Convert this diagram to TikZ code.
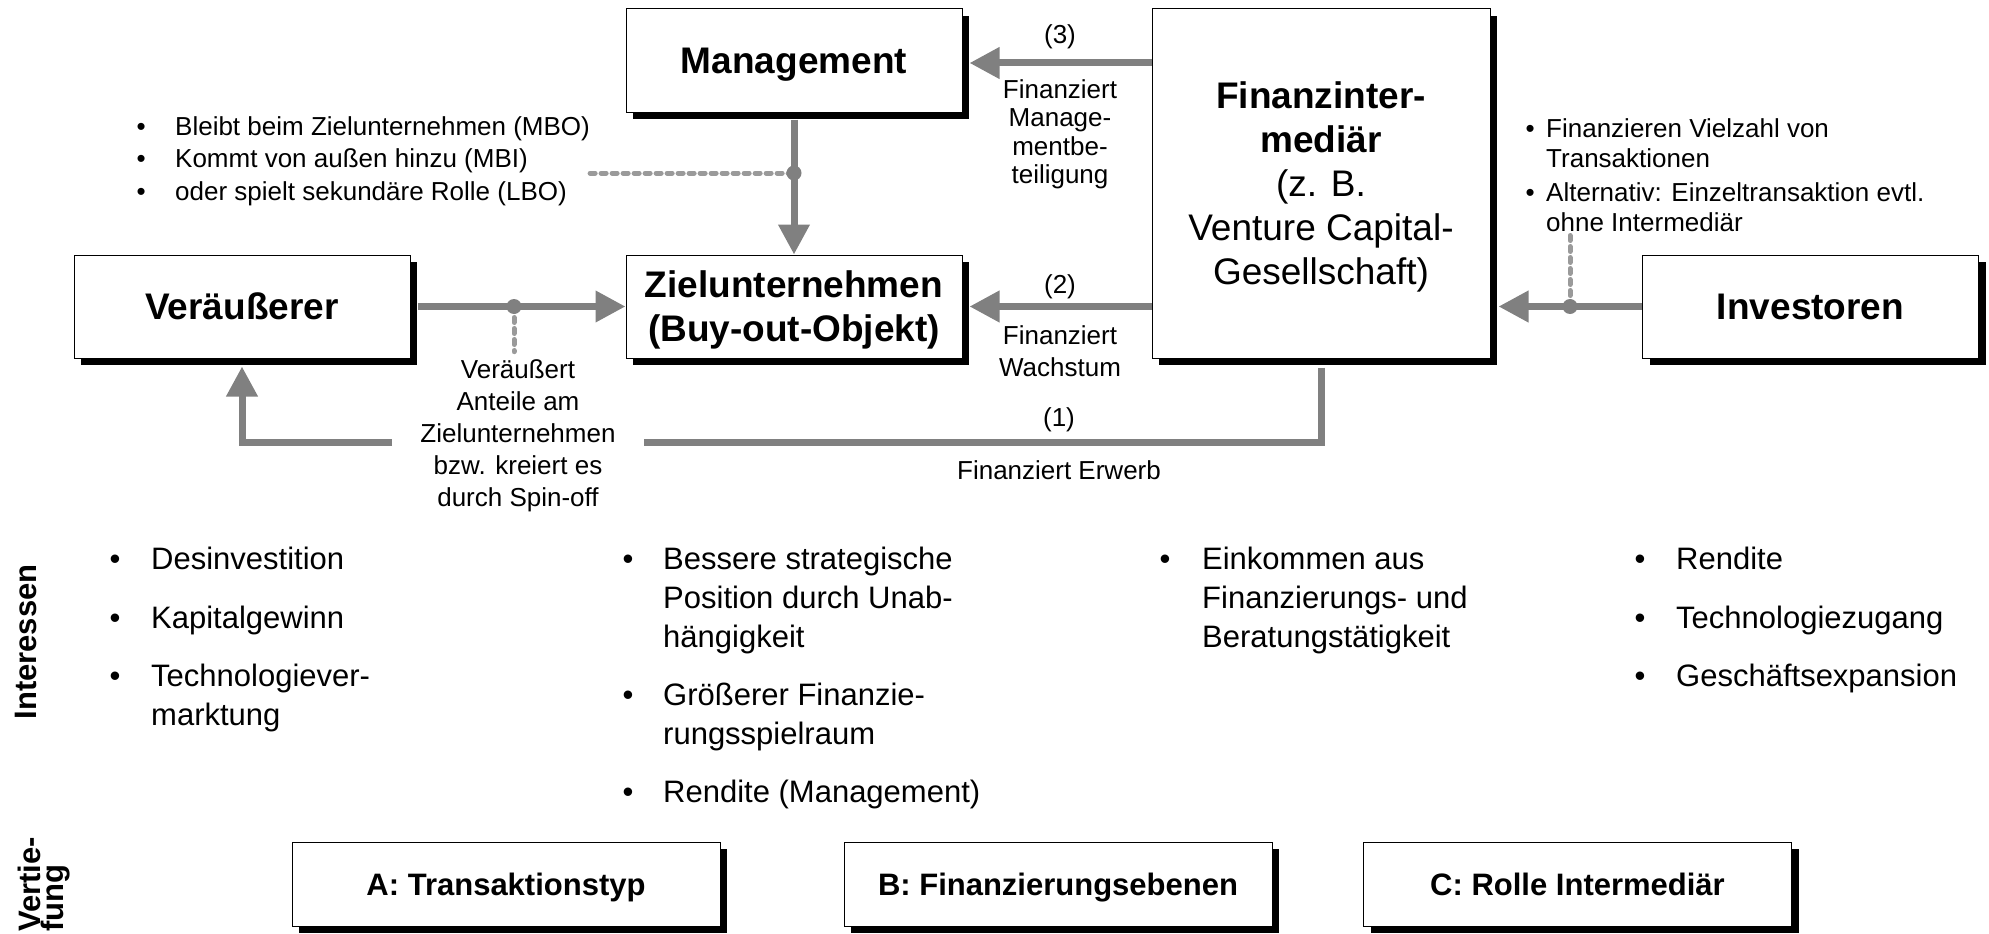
\documentclass[tikz,border=0pt]{standalone}
\usepackage{fontspec}
\setmainfont{Liberation Sans}
\usetikzlibrary{arrows.meta,shadows}

\definecolor{liniengrau}{HTML}{808080}
\definecolor{strichgrau}{HTML}{9A9A9A}
\newcommand{\pkt}[1]{\makebox[#1][l]{\textbullet}}

\begin{document}
\begin{tikzpicture}[x=1pt, y=-1pt,
  kasten/.style={draw=black, line width=1pt, fill=white, inner sep=0pt, align=center,
    minimum width=336pt, minimum height=103pt, text depth=0pt,
    general shadow={fill=black, shadow xshift=7pt, shadow yshift=-7pt}},
  titel/.style={font=\fontsize{37}{44}\selectfont\bfseries},
  vertiefung/.style={kasten, font=\fontsize{31}{37}\selectfont\bfseries,
    minimum width=428pt, minimum height=84pt},
  klein/.style={font=\fontsize{26}{31}\selectfont, align=center, inner sep=0pt},
  liste/.style={font=\fontsize{31}{39}\selectfont, align=left, anchor=north west, inner sep=0pt},
  pfeil/.style={draw=liniengrau, line width=7pt, -{Triangle[length=30pt, width=30pt]}},
  linie/.style={draw=liniengrau, line width=7pt},
  strich/.style={draw=strichgrau, line width=5pt, line cap=round, dash pattern=on 5pt off 6pt},
  punkt/.style={circle, fill=liniengrau, inner sep=0pt, minimum size=15pt}]
  \useasboundingbox (0,0) rectangle (1989,934);

  % Beteiligte
  \node[kasten, titel] (mgmt)   at (794,60.5)    {Management};
  \node[kasten, titel] (ziel)   at (794,306.5)   {Zielunternehmen\\(Buy-out-Objekt)};
  \node[kasten, titel] (veraeu) at (242,306.5)   {Veräußerer};
  \node[kasten, titel] (invest) at (1810.5,306.5) {Investoren};
  \node[kasten, titel, minimum width=338pt, minimum height=349pt] (fin) at (1321,183.5)
    {Finanzinter-\\mediär\\\mdseries (z. B.\\\mdseries Venture Capital-\\\mdseries Gesellschaft)};

  % Vertiefung
  \node[vertiefung] (teilA) at (506,884)    {A: Transaktionstyp};
  \node[vertiefung] (teilB) at (1058,884)   {B: Finanzierungsebenen};
  \node[vertiefung] (teilC) at (1577.5,884) {C: Rolle Intermediär};

  % Beschriftungen der Ströme
  \node[klein] (n3) at (1060,37) {(3)};
  \node[klein, font=\fontsize{26}{28.5}\selectfont] (f3) at (1060,134.5)
    {Finanziert\\Manage-\\mentbe-\\teiligung};
  \node[klein] (n2) at (1060,287) {(2)};
  \node[klein, font=\fontsize{26}{32}\selectfont] (f2) at (1060,351) {Finanziert\\Wachstum};
  \node[klein] (n1) at (1059,420) {(1)};
  \node[klein] (f1) at (1059,470) {Finanziert Erwerb};
  \node[klein, font=\fontsize{26}{32}\selectfont, inner xsep=28pt, inner ysep=8pt] (verk) at (518,436)
    {Veräußert\\Anteile am\\Zielunternehmen\\bzw. kreiert es\\durch Spin-off};

  \node[liste, font=\fontsize{26}{32.5}\selectfont, anchor=west] (mgmtliste) at (136.5,161)
    {\pkt{38.5pt}Bleibt beim Zielunternehmen (MBO)\\
     \pkt{38.5pt}Kommt von außen hinzu (MBI)\\
     \pkt{38.5pt}oder spielt sekundäre Rolle (LBO)};
  \node[liste, font=\fontsize{26}{30}\selectfont] (invliste) at (1525.5,118.5)
    {\pkt{20.5pt}Finanzieren Vielzahl von\\\hspace*{20.5pt}Transaktionen\\[4pt]
     \pkt{20.5pt}Alternativ: Einzeltransaktion evtl.\\\hspace*{20.5pt}ohne Intermediär};

  % Interessen
  \node[font=\fontsize{31}{37}\selectfont\bfseries, rotate=90, inner sep=0pt] (interessen) at (26,642) {Interessen};
  \node[font=\fontsize{31}{23}\selectfont\bfseries, rotate=90, align=left, anchor=north west,
    inner sep=0pt] (vertie) at (18,932) {Vertie-\\fung};
  \node[liste] (intVer) at (109.5,546.5)
    {\pkt{41.5pt}Desinvestition\\[20pt]\pkt{41.5pt}Kapitalgewinn\\[19pt]
     \pkt{41.5pt}Technologiever-\\\hspace*{41.5pt}marktung};
  \node[liste] (intZiel) at (622.5,546.5)
    {\pkt{40.5pt}Bessere strategische\\\hspace*{40.5pt}Position durch Unab-\\\hspace*{40.5pt}hängigkeit\\[19pt]
     \pkt{40.5pt}Größerer Finanzie-\\\hspace*{40.5pt}rungsspielraum\\[19pt]
     \pkt{40.5pt}Rendite (Management)};
  \node[liste] (intFin) at (1159.5,546.5)
    {\pkt{42.5pt}Einkommen aus\\\hspace*{42.5pt}Finanzierungs- und\\\hspace*{42.5pt}Beratungstätigkeit};
  \node[liste] (intInv) at (1634.5,546.5)
    {\pkt{41.5pt}Rendite\\[20pt]\pkt{41.5pt}Technologiezugang\\[19pt]\pkt{41.5pt}Geschäftsexpansion};

  \coordinate (r3) at (0,63);
  \coordinate (r2) at (0,306.5);
  \coordinate (r1) at (0,442);
  \coordinate (mdot) at (794,173);
  \coordinate (vdot) at (514,306.5);
  \coordinate (idot) at (1570,306.5);

  % gestrichelte Zuordnungen
  \draw[strich] (mgmtliste.east |- mdot) -- (mdot);
  \draw[strich] (vdot) -- (vdot |- verk.north);
  \draw[strich] (idot) -- (idot |- invliste.south);

  % Finanzierungsstroeme
  \draw[pfeil] ([yshift=-7pt]mgmt.south) -- (ziel.north);
  \draw[pfeil] (fin.west |- r3) -- ([xshift=7pt]mgmt.east |- r3);
  \draw[pfeil] (fin.west |- r2) -- ([xshift=7pt]ziel.east);
  \draw[pfeil] ([xshift=7pt]veraeu.east) -- (ziel.west);
  \draw[pfeil] (invest.west) -- ([xshift=8pt]fin.east |- r2);
  \draw[linie] ([yshift=-9pt]fin.south) |- (verk.east |- r1);
  \draw[pfeil] (verk.west |- r1) -| ([yshift=-8pt]veraeu.south);

  \foreach \p in {mdot, vdot, idot}
    \node[punkt] (\p-kreis) at (\p) {};
\end{tikzpicture}
\end{document}
